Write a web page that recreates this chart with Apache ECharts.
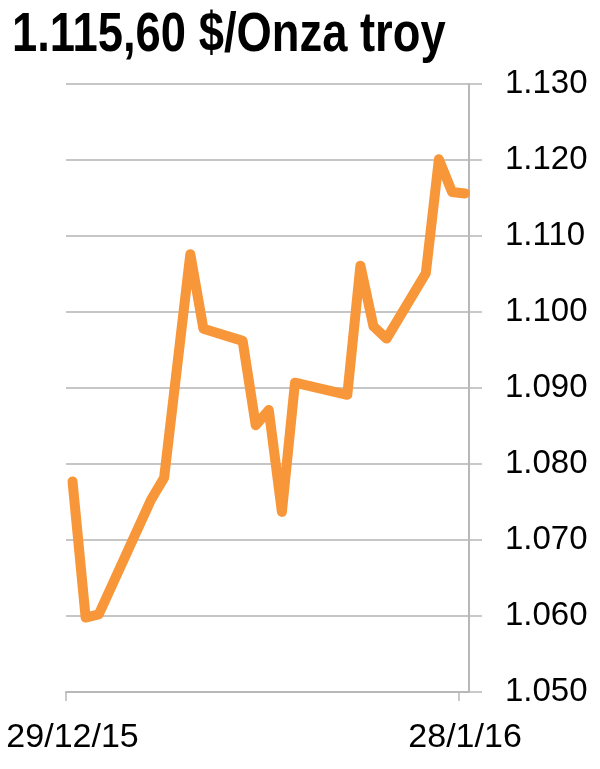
<!DOCTYPE html>
<html>
<head>
<meta charset="utf-8">
<script src="https://cdn.jsdelivr.net/npm/echarts@6/dist/echarts.min.js"></script>
<style>
  html, body { margin: 0; padding: 0; background: #fff; }
  #main { width: 600px; height: 769px; }
</style>
</head>
<body>
<div id="main"></div>
<script>
// fechas de cotizacion (dias habiles)
var dates = ['2015-12-29', '2015-12-30', '2015-12-31', '2016-01-04', '2016-01-05',
  '2016-01-07', '2016-01-08', '2016-01-11', '2016-01-12', '2016-01-13', '2016-01-14',
  '2016-01-15', '2016-01-19', '2016-01-20', '2016-01-21', '2016-01-22', '2016-01-25',
  '2016-01-26', '2016-01-27', '2016-01-28'];
// $/onza troy
var prices = [1077.7, 1059.8, 1060.2, 1075.3, 1078.2,
  1107.6, 1097.8, 1096.2, 1085.1, 1087.1, 1073.7,
  1090.7, 1089.1, 1106.1, 1098.1, 1096.5, 1105.1,
  1120.1, 1115.8, 1115.6];
var yTicks = [1050, 1130, 10];
var xLabelDates = ['2015-12-29', '2016-01-28'];
var titleText = '1.115,60 $/Onza troy';

var DAY = 86400000;
var t0 = Date.UTC(2015, 11, 29);
// dias desde el 29/12/15
function toDay(s) {
  var p = s.split('-');
  return (Date.UTC(+p[0], +p[1] - 1, +p[2]) - t0) / DAY;
}
function dayLabel(n) {
  var d = new Date(t0 + Math.round(n) * DAY);
  return d.getUTCDate() + '/' + (d.getUTCMonth() + 1) + '/' + String(d.getUTCFullYear()).slice(2);
}
function fmtNum(v) {
  var miles = Math.floor(v / 1000);
  var resto = String(Math.round(v % 1000));
  while (resto.length < 3) resto = '0' + resto;
  return miles + '.' + resto;
}

var seriesData = dates.map(function (d, i) { return [toDay(d), prices[i]]; });
var lastDay = toDay(dates[dates.length - 1]);
var xMin = -0.5;
var xMax = lastDay + 0.3;
var font = '"Liberation Sans", Arial, sans-serif';

var myChart = echarts.init(document.getElementById('main'));
var option = {
  animation: false,
  // titulo estrecho: no hay fuente narrow, se comprime en horizontal
  graphic: [
    {
      type: 'text',
      x: 12,
      y: 8,
      scaleX: 0.81,
      style: {
        text: titleText,
        font: 'bold 56px "Liberation Sans", Arial, sans-serif',
        fill: '#000',
        textVerticalAlign: 'top'
      }
    }
  ],
  grid: { left: 66, right: 131, top: 84, bottom: 77 },
  xAxis: {
    type: 'value',
    min: xMin,
    max: xMax,
    splitLine: { show: false },
    axisLine: { onZero: false, lineStyle: { color: '#b8b8b8', width: 2 } },
    axisTick: {
      show: true,
      length: 9,
      customValues: [xMin, lastDay - 0.5],
      lineStyle: { color: '#b8b8b8', width: 1.5 }
    },
    axisLabel: {
      customValues: xLabelDates.map(toDay),
      margin: 29,
      fontFamily: font,
      fontSize: 34,
      color: '#000',
      formatter: dayLabel
    }
  },
  yAxis: {
    type: 'value',
    position: 'right',
    min: yTicks[0],
    max: yTicks[1],
    interval: yTicks[2],
    axisLine: { show: true, onZero: false, lineStyle: { color: '#b8b8b8', width: 2 } },
    axisTick: { show: true, inside: false, length: 13, lineStyle: { color: '#b8b8b8', width: 1.5 } },
    splitLine: { lineStyle: { color: '#b3b3b3', width: 1.5 } },
    axisLabel: {
      margin: 36,
      fontFamily: font,
      fontSize: 33,
      color: '#000',
      formatter: fmtNum
    }
  },
  series: [
    {
      type: 'line',
      data: seriesData,
      showSymbol: false,
      lineStyle: { color: '#f8963a', width: 10, cap: 'round', join: 'round' }
    }
  ]
};
option && myChart.setOption(option);
</script>
</body>
</html>
